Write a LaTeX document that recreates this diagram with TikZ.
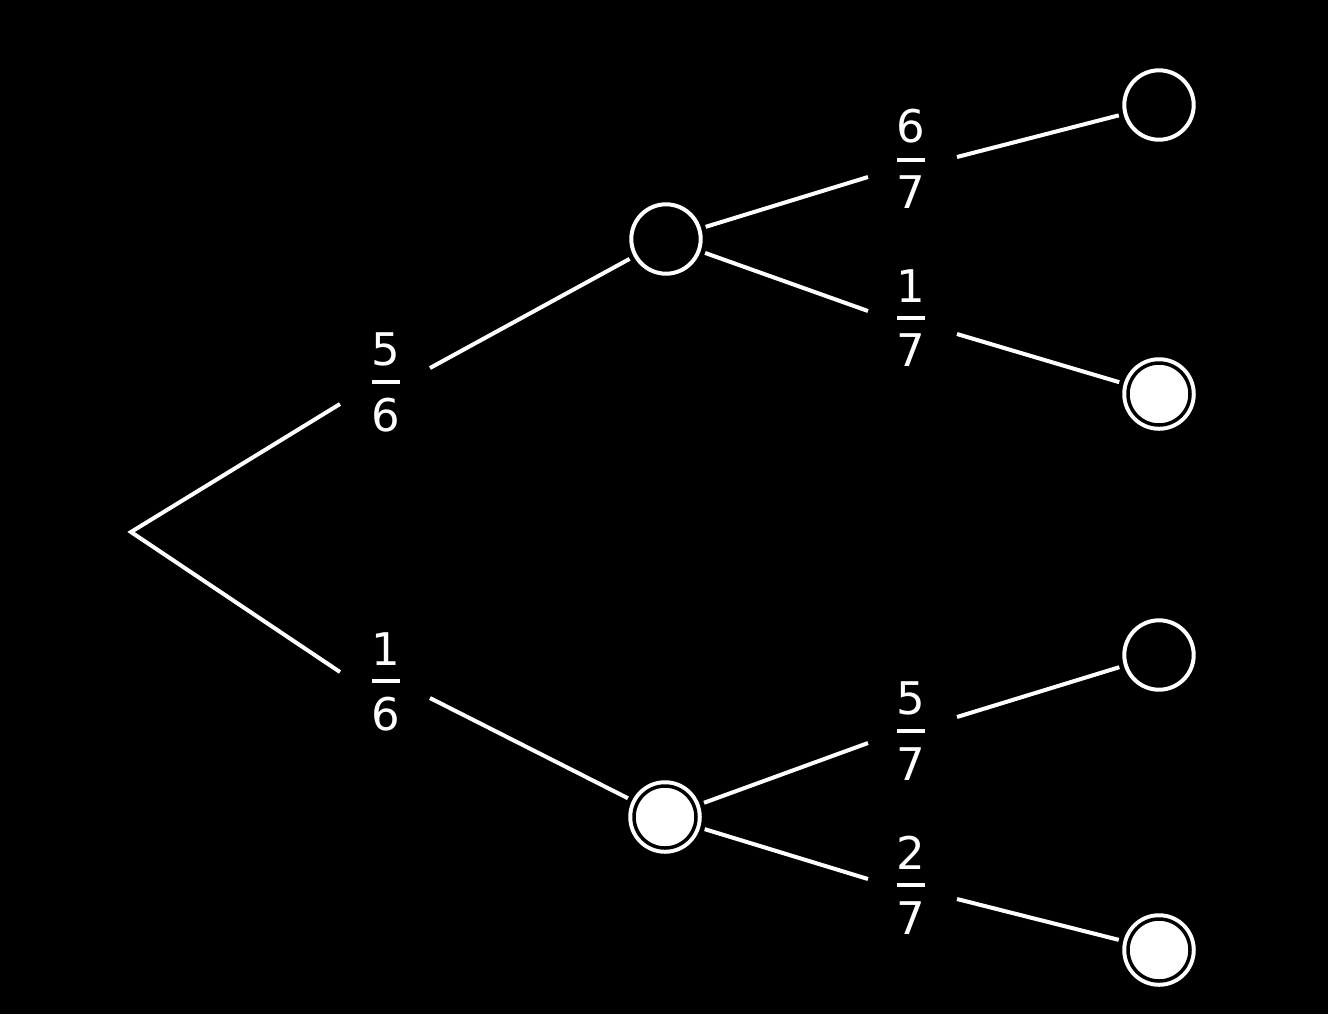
\documentclass[tikz,border=0pt]{standalone}
\usepackage{fontspec}
\setmainfont{DejaVu Sans}
\usetikzlibrary{calc}
\newcommand\fracstack[2]{\vbox{\offinterlineskip\halign{\hfil##\hfil\cr #1\cr\noalign{\kern7pt}\rule{14pt}{2pt}\cr\noalign{\kern7pt}#2\cr}}}
\begin{document}
\begin{tikzpicture}[x=0.5pt,y=-0.5pt,
  edge/.style={draw=white, line width=2pt, line cap=butt, line join=miter},
  opennode/.style={circle, draw=white, line width=2pt, minimum size=34.7pt, inner sep=0pt, outer sep=3.4pt},
  fullnode/.style={circle, draw=white, fill=white, line width=2pt, double=black, double distance=1.75pt, minimum size=31pt, inner sep=0pt, outer sep=5.25pt},
  prob/.style={inner sep=0pt, text=white, font=\fontsize{22.5}{27}\selectfont}]
\useasboundingbox (0,0) rectangle (1328,1014);
\fill[black] (0,0) rectangle (1328,1014);
% nodes
\coordinate (root) at (131,532);
\node[opennode] (A) at (666,239) {};
\node[fullnode] (B) at (665,817) {};
\node[opennode] (A1) at (1159,105) {};
\node[fullnode] (A2) at (1159,394) {};
\node[opennode] (B1) at (1159,655) {};
\node[fullnode] (B2) at (1159,950) {};
% probabilities
\node[prob] (lA) at (386,382) {\fracstack{5}{6}};
\node[prob] (lB) at (386,682) {\fracstack{1}{6}};
\node[prob] (lA1) at (911,159) {\fracstack{6}{7}};
\node[prob] (lA2) at (911,318) {\fracstack{1}{7}};
\node[prob] (lB1) at (911,731) {\fracstack{5}{7}};
\node[prob] (lB2) at (911,885) {\fracstack{2}{7}};
% connectors
\draw[edge] ($(lA)+(-46,22)$) -- (root) -- ($(lB)+(-46,-10)$);
\draw[edge] ($(lA)+(44,-14)$) -- (A);
\draw[edge] ($(lB)+(44,16)$) -- (B);
\draw[edge] (A) -- ($(lA1)+(-43,18)$);
\draw[edge] ($(lA1)+(46,-2)$) -- (A1);
\draw[edge] (A) -- ($(lA2)+(-43,-7)$);
\draw[edge] ($(lA2)+(46,16)$) -- (A2);
\draw[edge] (B) -- ($(lB1)+(-43,12)$);
\draw[edge] ($(lB1)+(46,-14)$) -- (B1);
\draw[edge] (B) -- ($(lB2)+(-43,-6)$);
\draw[edge] ($(lB2)+(46,14)$) -- (B2);
\end{tikzpicture}
\end{document}
